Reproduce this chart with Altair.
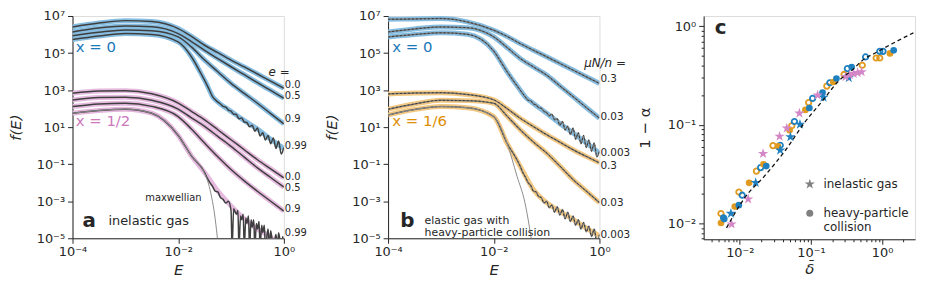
import altair as alt
import pandas as pd

FONT = "DejaVu Sans"
INK = "#262626"
BLUE_L, PINK_L, ORANGE_L = "#86bde0", "#e5bade", "#f3c983"
BLUE_T, PINK_T, ORANGE_T = "#1b78b9", "#cc78bc", "#de8f05"
BLUE_P, ORANGE_P, PINK_P = "#1f80c0", "#df9a1f", "#d387c6"
SIM_A = "#3f3f3f"
SIM_B = "#787878"
MAXW = "#8c8c8c"

# ---------------------------------------------------------------- panel a
a_logE = [-4, -3.5, -3, -2.5, -2, -1.75, -1.5, -1.25, -1, -0.75, -0.5, -0.25, 0]
a_x0_e00 = [6.41, 6.62, 6.75, 6.70, 6.32, 5.90, 5.42, 5.02, 4.62, 4.25, 3.87, 3.48, 3.10]
a_x0_e05 = [6.14, 6.35, 6.46, 6.42, 6.05, 5.62, 5.15, 4.70, 4.26, 3.83, 3.40, 2.98, 2.56]
a_x0_e09 = [5.93, 6.12, 6.25, 6.20, 5.87, 5.33, 4.62, 3.99, 3.36, 2.82, 2.29, 1.73, 1.18]
a_x0_e099_logE = [-4, -3.5, -3, -2.5, -2, -1.75, -1.57, -1.44, -1.35, -1.26, -1.0, -0.75, -0.5, -0.25, 0]
a_x0_e099 = [5.73, 5.92, 6.05, 6.00, 5.60, 4.80, 3.90, 3.19, 2.65, 2.38, 1.85, 1.35, 0.90, 0.35, -0.15]
a_x0_e099_tail_logE = [-1.20, -1.15, -1.10, -1.05, -1.00, -0.95, -0.90, -0.85, -0.80, -0.75, -0.70, -0.65,
                       -0.60, -0.55, -0.50, -0.45, -0.40, -0.35, -0.30, -0.25, -0.20, -0.15, -0.10, -0.05, 0.00]
a_x0_e099_tail = [2.25, 2.12, 2.08, 1.92, 1.86, 1.70, 1.68, 1.45, 1.50, 1.28, 1.25, 1.02,
                  1.10, 0.78, 0.95, 0.52, 0.70, 0.30, 0.55, 0.10, 0.42, -0.15, 0.25, -0.45, -0.10]

a_x12_e00 = [2.83, 2.95, 2.97, 2.80, 2.30, 1.85, 1.39, 0.86, 0.32, -0.22, -0.76, -1.25, -1.74]
a_x12_e05 = [2.47, 2.60, 2.61, 2.45, 1.97, 1.50, 1.04, 0.50, -0.04, -0.62, -1.20, -1.72, -2.24]
a_x12_e09 = [2.11, 2.25, 2.29, 2.12, 1.57, 0.90, 0.14, -0.60, -1.29, -1.90, -2.46, -3.00, -3.53]
a_x12_e099_logE = [-4, -3.5, -3, -2.5, -2, -1.75, -1.5, -1.25, -1, -0.75, -0.5, -0.3, -0.1]
a_x12_e099 = [1.75, 1.90, 1.97, 1.75, 0.55, -0.55, -1.45, -2.45, -3.25, -3.95, -4.50, -4.85, -5.30]
a_x12_e099_tail_logE = [-1.45, -1.40, -1.35, -1.30, -1.25, -1.20, -1.15, -1.10, -1.05, -1.00,
                        -0.98, -0.95, -0.90, -0.87, -0.85, -0.82, -0.80, -0.77, -0.75, -0.72,
                        -0.70, -0.67, -0.65, -0.62, -0.60, -0.57, -0.55, -0.52, -0.50, -0.47,
                        -0.45, -0.42, -0.40, -0.37, -0.35, -0.30, -0.27, -0.25, -0.20, -0.15,
                        -0.12, -0.10, -0.05, -0.02, 0.00]
a_x12_e099_tail = [-1.75, -2.0, -2.2, -2.45, -2.5, -2.8, -2.9, -3.1, -3.0, -3.5,
                   -5.5, -3.4, -3.7, -3.5, -5.5, -3.8, -4.0, -3.7, -5.5, -3.9,
                   -4.2, -3.8, -5.5, -4.0, -4.4, -4.0, -5.5, -4.2, -4.5, -4.1,
                   -5.5, -4.3, -4.7, -4.3, -5.5, -4.5, -5.5, -4.6, -5.5, -4.8,
                   -5.5, -4.7, -5.5, -4.9, -5.5]
a_maxw_logE = [-4, -3.5, -3, -2.5, -2, -1.75, -1.6, -1.5, -1.4, -1.3, -1.25]
a_maxw = [1.75, 1.90, 1.97, 1.75, 0.55, -0.55, -1.05, -1.50, -2.35, -3.95, -5.2]

a_e_labels = ["0.0", "0.5", "0.9", "0.99", "0.0", "0.5", "0.9", "0.99"]
a_e_label_logf = [3.30, 2.70, 1.43, -0.02, -1.68, -2.27, -3.40, -4.69]

# ---------------------------------------------------------------- panel b
b_logE = [-4, -3.5, -3, -2.5, -2, -1.75, -1.5, -1.25, -1, -0.75, -0.5, -0.25, 0]
b_x0_m03 = [6.82, 6.84, 6.86, 6.68, 6.23, 5.90, 5.51, 5.15, 4.80, 4.44, 4.08, 3.72, 3.36]
b_x0_m003 = [6.14, 6.30, 6.41, 6.37, 5.87, 5.30, 4.71, 4.25, 3.81, 3.23, 2.65, 2.06, 1.48]
b_x0_m0003_logE = [-4, -3.5, -3, -2.5, -2, -1.75, -1.5, -1.4, -1.25, -1, -0.75, -0.5, -0.25, 0]
b_x0_m0003 = [5.87, 6.00, 6.09, 6.01, 5.10, 4.00, 3.00, 2.62, 2.28, 1.75, 1.20, 0.68, 0.15, -0.40]
b_x0_m0003_tail_logE = [-1.35, -1.30, -1.25, -1.20, -1.15, -1.10, -1.05, -1.00, -0.95, -0.90,
                        -0.85, -0.80, -0.75, -0.70, -0.65, -0.60, -0.55, -0.50, -0.45, -0.40,
                        -0.35, -0.30, -0.25, -0.20, -0.15, -0.10, -0.05, 0.00]
b_x0_m0003_tail = [2.45, 2.42, 2.25, 2.20, 2.05, 2.02, 1.85, 1.78, 1.62, 1.70,
                   1.40, 1.45, 1.10, 1.30, 0.85, 1.05, 0.60, 0.95, 0.35, 0.70,
                   0.10, 0.55, -0.10, 0.30, -0.30, 0.15, -0.60, -0.30]

b_x16_m03 = [2.79, 2.84, 2.86, 2.76, 2.47, 2.00, 1.48, 1.03, 0.59, 0.19, -0.22, -0.58, -0.93]
b_x16_m003 = [1.97, 2.25, 2.45, 2.43, 2.29, 1.60, 0.86, 0.20, -0.40, -1.10, -1.83, -2.45, -3.08]
b_x16_m0003 = [1.66, 1.95, 2.11, 2.05, 1.57, 0.14, -1.11, -2.37, -3.08, -3.55, -3.98, -4.45, -4.87]
b_x16_m0003_tail_logE = [-1.45, -1.40, -1.35, -1.30, -1.25, -1.20, -1.15, -1.10, -1.05, -1.00,
                         -0.95, -0.90, -0.85, -0.80, -0.75, -0.70, -0.65, -0.60, -0.55, -0.50,
                         -0.45, -0.40, -0.35, -0.30, -0.25, -0.20, -0.15, -0.10, -0.05, 0.00]
b_x16_m0003_tail = [-1.45, -1.70, -2.00, -2.15, -2.45, -2.50, -2.75, -2.80, -3.10, -3.00,
                    -3.35, -3.20, -3.60, -3.30, -3.75, -3.45, -3.95, -3.60, -4.10, -3.80,
                    -4.30, -4.00, -4.50, -4.15, -4.65, -4.35, -4.90, -4.50, -5.20, -4.80]
b_maxw_logE = [-4, -3.5, -3, -2.5, -2, -1.75, -1.56, -1.41, -1.28]
b_maxw = [1.66, 1.95, 2.11, 2.05, 1.57, 0.14, -1.65, -3.08, -5.2]

b_m_labels = ["0.3", "0.03", "0.003", "0.3", "0.03", "0.003"]
b_m_label_logf = [3.58, 1.54, -0.40, -1.09, -3.08, -4.80]

# ---------------------------------------------------------------- panel c
c_blue_filled_x = [0.00604, 0.00969, 0.0235, 0.095, 0.1455, 0.228, 0.373, 1.455]
c_blue_filled_y = [0.01106, 0.0153, 0.0381, 0.148, 0.2117, 0.295, 0.386, 0.569]
c_blue_open_x = [0.0059, 0.0108, 0.0196, 0.037, 0.0585, 0.1055, 0.184, 0.325, 0.585, 0.927, 1.03]
c_blue_open_y = [0.0114, 0.0193, 0.0368, 0.062, 0.108, 0.1855, 0.267, 0.372, 0.488, 0.556, 0.556]
c_orange_filled_x = [0.00543, 0.0085, 0.0135, 0.0215, 0.0343, 0.050, 0.0834, 0.206, 1.29]
c_orange_filled_y = [0.0101, 0.0148, 0.0258, 0.0397, 0.0605, 0.088, 0.1416, 0.272, 0.530]
c_orange_open_x = [0.00543, 0.0097, 0.0171, 0.0292, 0.0537, 0.0927, 0.167, 0.292, 0.526, 0.824, 0.927]
c_orange_open_y = [0.0126, 0.0208, 0.0339, 0.0615, 0.0977, 0.168, 0.247, 0.324, 0.402, 0.476, 0.476]
c_blue_star_x = [0.00749, 0.0167, 0.0369, 0.0514, 0.070, 0.150, 0.34]
c_blue_star_y = [0.0126, 0.0259, 0.0552, 0.0754, 0.101, 0.190, 0.300]
c_pink_star_x = [0.00765, 0.0131, 0.0212, 0.0362, 0.0457, 0.0687, 0.124, 0.307, 0.350, 0.398, 0.453, 0.515]
c_pink_star_y = [0.00984, 0.0176, 0.051, 0.0763, 0.0925, 0.131, 0.200, 0.307, 0.321, 0.331, 0.337, 0.344]
c_theory_x = [0.0065, 0.0117, 0.0223, 0.0448, 0.081, 0.150, 0.235, 0.38, 0.57, 0.80, 1.38, 2.75]
c_theory_y = [0.0090, 0.0182, 0.0303, 0.0565, 0.105, 0.180, 0.270, 0.360, 0.470, 0.535, 0.664, 0.857]

STAR = ("M0,-1L0.2245,-0.309L0.951,-0.309L0.363,0.118L0.588,0.809L0,0.382"
        "L-0.588,0.809L-0.363,0.118L-0.951,-0.309L-0.2245,-0.309Z")

# ---------------------------------------------------------------- helpers
LOGEXP = "round(log(datum.value)/LN10)"
SUP = "['\u2070','\u00b9','\u00b2','\u00b3','\u2074','\u2075','\u2076','\u2077','\u2078','\u2079']"
POW_LABEL = f"'10' + ({LOGEXP} < 0 ? '\u207b' : '') + {SUP}[abs({LOGEXP})]"
IS_MAJOR = f"abs(log(datum.value)/LN10 - {LOGEXP}) < 0.001"


def rows(curve, logE, logf):
    return [{"E": 10 ** x, "f": 10 ** y, "curve": curve} for x, y in zip(logE, logf)]


def with_tail(logE, logf, tE, tf):
    head = [(x, y) for x, y in zip(logE, logf) if x < tE[0]]
    pts_ = head + list(zip(tE, tf))
    return [p[0] for p in pts_], [p[1] for p in pts_]


def axis_common(**kw):
    base = dict(labelFont=FONT, titleFont=FONT, labelFontSize=13, titleFontSize=15,
                labelColor=INK, titleColor=INK, tickColor=INK, domainColor=INK,
                titleFontWeight="normal", grid=False, labelOverlap=False, labelFlush=False)
    base.update(kw)
    return alt.Axis(**base)


def spectrum_panel(theory_groups, sim_rows, sim_color, sim_dash, maxw_rows, texts):
    xa = axis_common(values=[1e-4, 1e-2, 1], labelExpr=POW_LABEL, title="E", titleFontStyle="italic",
                     tickSize=5, labelPadding=2, minExtent=20, maxExtent=20, titlePadding=4)
    ya = axis_common(values=[1e-5, 1e-3, 1e-1, 10, 1e3, 1e5, 1e7], labelExpr=POW_LABEL, title="f(E)",
                     titleFontStyle="italic", tickSize=5, labelPadding=3, minExtent=36, maxExtent=36,
                     titlePadding=13)
    X = alt.X("E:Q", scale=alt.Scale(type="log", domain=[1e-4, 1], nice=False), axis=xa)
    Y = alt.Y("f:Q", scale=alt.Scale(type="log", domain=[1e-5, 1e7], nice=False), axis=ya)
    layers = []
    for color, rws in theory_groups:
        layers.append(alt.Chart(pd.DataFrame(rws)).mark_line(color=color, strokeWidth=5, clip=True,
                                                             interpolate="monotone")
                      .encode(x=X, y=Y, detail="curve:N"))
    sim_df = pd.DataFrame(sim_rows)
    layers.append(alt.Chart(sim_df).mark_line(color=sim_color, strokeWidth=1.5, clip=True, interpolate="monotone")
                  .encode(x=X, y=Y, detail="curve:N"))
    if sim_dash:
        layers.append(alt.Chart(sim_df).mark_line(color="#1a1a1a", strokeWidth=0.7, strokeDash=[2, 2], clip=True,
                                                  interpolate="monotone")
                      .encode(x=X, y=Y, detail="curve:N"))
    layers.append(alt.Chart(pd.DataFrame(maxw_rows)).mark_line(color=MAXW, strokeWidth=1, clip=True,
                                                               interpolate="monotone")
                  .encode(x=X, y=Y))
    for df, mk in texts:
        opts = dict(font=FONT, color=INK)
        opts.update(mk)
        layers.append(alt.Chart(df).mark_text(**opts).encode(x=X, y=Y, text="t:N"))
    return alt.layer(*layers).properties(width=213, height=224)


# ---- panel a data
a_theory_blue = (rows("e00", a_logE, a_x0_e00) + rows("e05", a_logE, a_x0_e05) +
                 rows("e09", a_logE, a_x0_e09) + rows("e099", a_x0_e099_logE, a_x0_e099))
a_theory_pink = (rows("p00", a_logE, a_x12_e00) + rows("p05", a_logE, a_x12_e05) +
                 rows("p09", a_logE, a_x12_e09) + rows("p099", a_x12_e099_logE, a_x12_e099))
_sx, _sy = with_tail(a_x0_e099_logE, a_x0_e099, a_x0_e099_tail_logE, a_x0_e099_tail)
_px, _py = with_tail(a_x12_e099_logE, a_x12_e099, a_x12_e099_tail_logE, a_x12_e099_tail)
a_sim = (rows("e00", a_logE, a_x0_e00) + rows("e05", a_logE, a_x0_e05) + rows("e09", a_logE, a_x0_e09) +
         rows("e099", _sx, _sy) + rows("p00", a_logE, a_x12_e00) + rows("p05", a_logE, a_x12_e05) +
         rows("p09", a_logE, a_x12_e09) + rows("p099", _px, _py))
a_maxw_rows = rows("m", a_maxw_logE, a_maxw)

a_labels_df = pd.DataFrame({"E": [1.0] * len(a_e_labels), "f": [10 ** v for v in a_e_label_logf], "t": a_e_labels})
a_texts = [
    (a_labels_df, dict(align="left", baseline="middle", dx=1, fontSize=10)),
    (pd.DataFrame({"E": [10 ** -0.29], "f": [10 ** 3.95], "t": ["e ="]}),
     dict(align="left", baseline="middle", fontSize=12, fontStyle="italic")),
    (pd.DataFrame({"E": [10 ** -3.94], "f": [10 ** 5.35], "t": ["x = 0"]}),
     dict(align="left", baseline="middle", fontSize=15, color=BLUE_T)),
    (pd.DataFrame({"E": [10 ** -3.94], "f": [10 ** 1.32], "t": ["x = 1/2"]}),
     dict(align="left", baseline="middle", fontSize=15, color=PINK_T)),
    (pd.DataFrame({"E": [10 ** -2.09], "f": [10 ** -2.81], "t": ["maxwellian"]}),
     dict(align="center", baseline="middle", fontSize=10)),
    (pd.DataFrame({"E": [10 ** -3.81], "f": [10 ** -4.05], "t": ["a"]}),
     dict(align="left", baseline="middle", fontSize=20, fontWeight="bold")),
    (pd.DataFrame({"E": [10 ** -3.32], "f": [10 ** -4.05], "t": ["inelastic gas"]}),
     dict(align="left", baseline="middle", fontSize=13)),
]
panel_a = spectrum_panel([(BLUE_L, a_theory_blue), (PINK_L, a_theory_pink)], a_sim, SIM_A, False,
                         a_maxw_rows, a_texts)

# ---- panel b data
b_theory_blue = (rows("b03", b_logE, b_x0_m03) + rows("b003", b_logE, b_x0_m003) +
                 rows("b0003", b_x0_m0003_logE, b_x0_m0003))
b_theory_orange = (rows("o03", b_logE, b_x16_m03) + rows("o003", b_logE, b_x16_m003) +
                   rows("o0003", b_logE, b_x16_m0003))
_bx, _by = with_tail(b_x0_m0003_logE, b_x0_m0003, b_x0_m0003_tail_logE, b_x0_m0003_tail)
_ox, _oy = with_tail(b_logE, b_x16_m0003, b_x16_m0003_tail_logE, b_x16_m0003_tail)
b_sim = (rows("b03", b_logE, b_x0_m03) + rows("b003", b_logE, b_x0_m003) + rows("b0003", _bx, _by) +
         rows("o03", b_logE, b_x16_m03) + rows("o003", b_logE, b_x16_m003) + rows("o0003", _ox, _oy))
b_maxw_rows = rows("m", b_maxw_logE, b_maxw)

b_labels_df = pd.DataFrame({"E": [1.0] * len(b_m_labels), "f": [10 ** v for v in b_m_label_logf], "t": b_m_labels})
b_texts = [
    (b_labels_df, dict(align="left", baseline="middle", dx=1, fontSize=10.5)),
    (pd.DataFrame({"E": [10 ** -0.29], "f": [10 ** 4.44], "t": ["\u03bcN/n ="]}),
     dict(align="left", baseline="middle", fontSize=12, fontStyle="italic")),
    (pd.DataFrame({"E": [10 ** -3.92], "f": [10 ** 5.35], "t": ["x = 0"]}),
     dict(align="left", baseline="middle", fontSize=15, color=BLUE_T)),
    (pd.DataFrame({"E": [10 ** -3.92], "f": [10 ** 1.32], "t": ["x = 1/6"]}),
     dict(align="left", baseline="middle", fontSize=15, color=ORANGE_T)),
    (pd.DataFrame({"E": [10 ** -3.77], "f": [10 ** -4.05], "t": ["b"]}),
     dict(align="left", baseline="middle", fontSize=20, fontWeight="bold")),
    (pd.DataFrame({"E": [10 ** -3.31], "f": [10 ** -4.05], "t": ["elastic gas with\nheavy-particle collision"]}),
     dict(align="left", baseline="middle", fontSize=11, lineBreak="\n", lineHeight=12)),
]
panel_b = spectrum_panel([(BLUE_L, b_theory_blue), (ORANGE_L, b_theory_orange)], b_sim, SIM_B, True,
                         b_maxw_rows, b_texts)

# ---------------------------------------------------------------- panel c
c_xticks = [0.004, 0.005, 0.006, 0.007, 0.008, 0.009,
            0.01, 0.02, 0.03, 0.04, 0.05, 0.06, 0.07, 0.08, 0.09,
            0.1, 0.2, 0.3, 0.4, 0.5, 0.6, 0.7, 0.8, 0.9, 1, 2]
c_yticks = [0.007, 0.008, 0.009,
            0.01, 0.02, 0.03, 0.04, 0.05, 0.06, 0.07, 0.08, 0.09,
            0.1, 0.2, 0.3, 0.4, 0.5, 0.6, 0.7, 0.8, 0.9, 1]
TICK_SIZE = {"condition": {"test": IS_MAJOR, "value": 5}, "value": 2.5}
cxa = axis_common(values=c_xticks, labelExpr=f"{IS_MAJOR} ? {POW_LABEL} : ''", title="\u03b4\u0304",
                  titleFontStyle="italic", tickSize=TICK_SIZE, labelPadding=2,
                  minExtent=20, maxExtent=20, titlePadding=2)
cya = axis_common(values=c_yticks, labelExpr=f"{IS_MAJOR} ? {POW_LABEL} : ''", title="1 \u2212 \u03b1",
                  tickSize=TICK_SIZE, labelPadding=3, minExtent=38, maxExtent=38, titlePadding=14)
CX = alt.X("x:Q", scale=alt.Scale(type="log", domain=[0.0031, 2.9], nice=False), axis=cxa)
CY = alt.Y("y:Q", scale=alt.Scale(type="log", domain=[0.0069, 1.27], nice=False), axis=cya)


def pts(xs, ys):
    return pd.DataFrame({"x": xs, "y": ys})


c_layers = [
    alt.Chart(pts(c_orange_open_x, c_orange_open_y)).mark_point(shape="circle", filled=False, color=ORANGE_P,
                                                                size=30, strokeWidth=1.8, opacity=1).encode(x=CX, y=CY),
    alt.Chart(pts(c_blue_open_x, c_blue_open_y)).mark_point(shape="circle", filled=False, color=BLUE_P,
                                                            size=30, strokeWidth=1.8, opacity=1).encode(x=CX, y=CY),
    alt.Chart(pts(c_orange_filled_x, c_orange_filled_y)).mark_point(shape="circle", filled=True, color=ORANGE_P,
                                                                    size=45, opacity=1).encode(x=CX, y=CY),
    alt.Chart(pts(c_blue_filled_x, c_blue_filled_y)).mark_point(shape="circle", filled=True, color=BLUE_P,
                                                                size=45, opacity=1).encode(x=CX, y=CY),
    alt.Chart(pts(c_blue_star_x, c_blue_star_y)).mark_point(shape=STAR, filled=True, color=BLUE_P,
                                                            size=120, opacity=1).encode(x=CX, y=CY),
    alt.Chart(pts(c_pink_star_x, c_pink_star_y)).mark_point(shape=STAR, filled=True, color=PINK_P,
                                                            size=120, opacity=1).encode(x=CX, y=CY),
    alt.Chart(pts(c_theory_x, c_theory_y)).mark_line(color="#111111", strokeWidth=1.3, strokeDash=[4, 3],
                                                     clip=True, interpolate="monotone").encode(x=CX, y=CY),
    alt.Chart(pts([0.0962], [0.025])).mark_point(shape=STAR, filled=True, color="#808080", size=120,
                                                 opacity=1).encode(x=CX, y=CY),
    alt.Chart(pts([0.0962], [0.0127])).mark_point(shape="circle", filled=True, color="#808080", size=50,
                                                  opacity=1).encode(x=CX, y=CY),
    alt.Chart(pd.DataFrame({"x": [0.150], "y": [0.025], "t": ["inelastic gas"]})).mark_text(
        font=FONT, fontSize=12, color=INK, align="left", baseline="middle").encode(x=CX, y=CY, text="t:N"),
    alt.Chart(pd.DataFrame({"x": [0.150], "y": [0.0127], "t": ["heavy-particle\ncollision"]})).mark_text(
        font=FONT, fontSize=12, color=INK, align="left", baseline="middle", lineBreak="\n",
        lineHeight=14).encode(x=CX, y=CY, text="t:N"),
    alt.Chart(pd.DataFrame({"x": [0.00443], "y": [0.96], "t": ["c"]})).mark_text(
        font=FONT, fontSize=20, fontWeight="bold", color=INK, align="left", baseline="middle").encode(
        x=CX, y=CY, text="t:N"),
]
panel_c = alt.layer(*c_layers).properties(width=213, height=225)

chart = (alt.hconcat(panel_a, panel_b, panel_c, spacing=105, bounds="flush")
         .properties(padding={"left": 0, "top": 0, "right": 2, "bottom": 2})
         .configure_view(stroke=None)
         .configure(font=FONT))

chart.save("out.html", embed_options={"renderer": "svg", "actions": False})
